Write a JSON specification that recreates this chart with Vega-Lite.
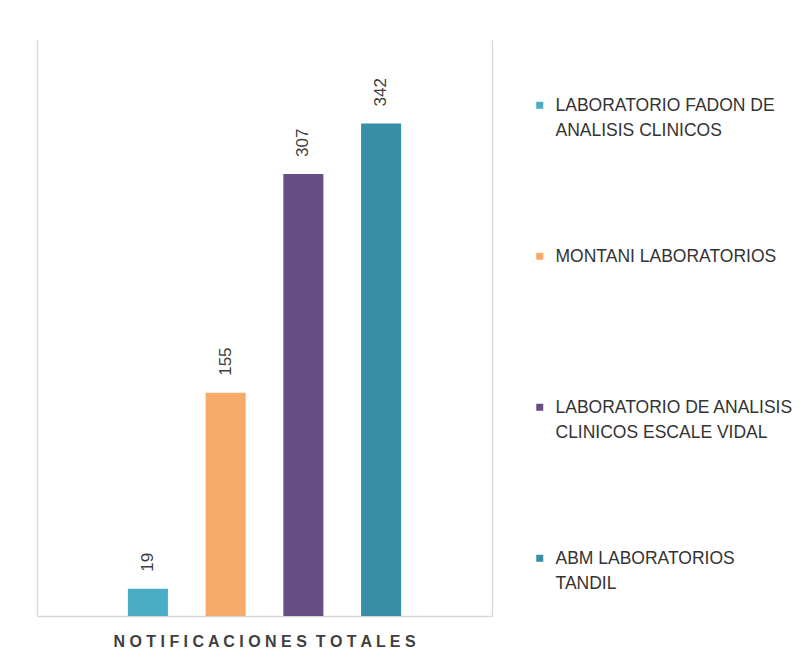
{
  "$schema": "https://vega.github.io/schema/vega-lite/v6.json",
  "width": 455,
  "height": 576,
  "autosize": {"type": "none"},
  "padding": {"left": 37, "top": 40, "right": 310, "bottom": 47},
  "background": "white",
  "config": {
    "font": "Liberation Sans",
    "view": {"stroke": null},
    "style": {"guide-label": {"lineHeight": 25}}
  },
  "data": {
    "values": [
      {"grupo": "NOTIFICACIONES TOTALES", "lab": "LABORATORIO FADON DE ANALISIS CLINICOS", "valor": 19},
      {"grupo": "NOTIFICACIONES TOTALES", "lab": "MONTANI LABORATORIOS", "valor": 155},
      {"grupo": "NOTIFICACIONES TOTALES", "lab": "LABORATORIO DE ANALISIS CLINICOS ESCALE VIDAL", "valor": 307},
      {"grupo": "NOTIFICACIONES TOTALES", "lab": "ABM LABORATORIOS TANDIL", "valor": 342}
    ]
  },
  "encoding": {
    "x": {
      "field": "grupo",
      "type": "nominal",
      "scale": {"paddingInner": 0, "paddingOuter": 0.0307},
      "axis": {
        "title": null,
        "ticks": false,
        "labelAngle": 0,
        "labelFontSize": 16,
        "labelFontWeight": "bold",
        "labelColor": "#404040",
        "labelPadding": 17,
        "labelLimit": 600,
        "domainColor": "#d9d9d9",
        "domainWidth": 1.5,
        "labelExpr": "'N O T I F I C A C I O N E S\u00a0 T O T A L E S'"
      }
    },
    "xOffset": {
      "field": "lab",
      "type": "nominal",
      "sort": null,
      "scale": {"paddingInner": 0.485, "paddingOuter": 1}
    }
  },
  "layer": [
    {
      "mark": {"type": "bar"},
      "encoding": {
        "y": {
          "field": "valor",
          "type": "quantitative",
          "scale": {"domain": [0, 400], "nice": false},
          "axis": {"orient": "left", "labels": false, "ticks": false, "grid": false, "title": null, "domainColor": "#d9d9d9", "domainWidth": 1.5}
        },
        "color": {
          "field": "lab",
          "type": "nominal",
          "sort": null,
          "scale": {
            "domain": ["LABORATORIO FADON DE ANALISIS CLINICOS", "MONTANI LABORATORIOS", "LABORATORIO DE ANALISIS CLINICOS ESCALE VIDAL", "ABM LABORATORIOS TANDIL"],
            "range": ["#4bacc6", "#f8aa6b", "#674f84", "#378ea6"]
          },
          "legend": {
            "orient": "none",
            "legendX": 494,
            "legendY": 48,
            "title": null,
            "padding": 0,
            "symbolType": "M-1,1.43H1V3.43H-1Z",
            "symbolSize": 49,
            "symbolStrokeWidth": 0,
            "labelFontSize": 17.5,
            "labelColor": "#333333",
            "labelOffset": 7,
            "labelLimit": 300,
            "labelBaseline": "top",
            "rowPadding": 99,
            "labelExpr": "datum.label == 'LABORATORIO FADON DE ANALISIS CLINICOS' ? ['LABORATORIO FADON DE', 'ANALISIS CLINICOS'] : datum.label == 'MONTANI LABORATORIOS' ? ['MONTANI LABORATORIOS', ' '] : datum.label == 'LABORATORIO DE ANALISIS CLINICOS ESCALE VIDAL' ? ['LABORATORIO DE ANALISIS', 'CLINICOS ESCALE VIDAL'] : ['ABM LABORATORIOS', 'TANDIL']"
          }
        }
      }
    },
    {
      "mark": {"type": "text", "angle": 270, "align": "left", "baseline": "middle", "dx": 17, "fontSize": 17, "color": "#404040"},
      "encoding": {
        "y": {
          "field": "valor",
          "type": "quantitative",
          "scale": {"domain": [0, 400], "nice": false},
          "axis": {"orient": "right", "labels": false, "ticks": false, "grid": false, "title": null, "domainColor": "#d9d9d9", "domainWidth": 1.5}
        },
        "text": {"field": "valor", "type": "quantitative"}
      }
    }
  ],
  "resolve": {"axis": {"y": "independent"}}
}
